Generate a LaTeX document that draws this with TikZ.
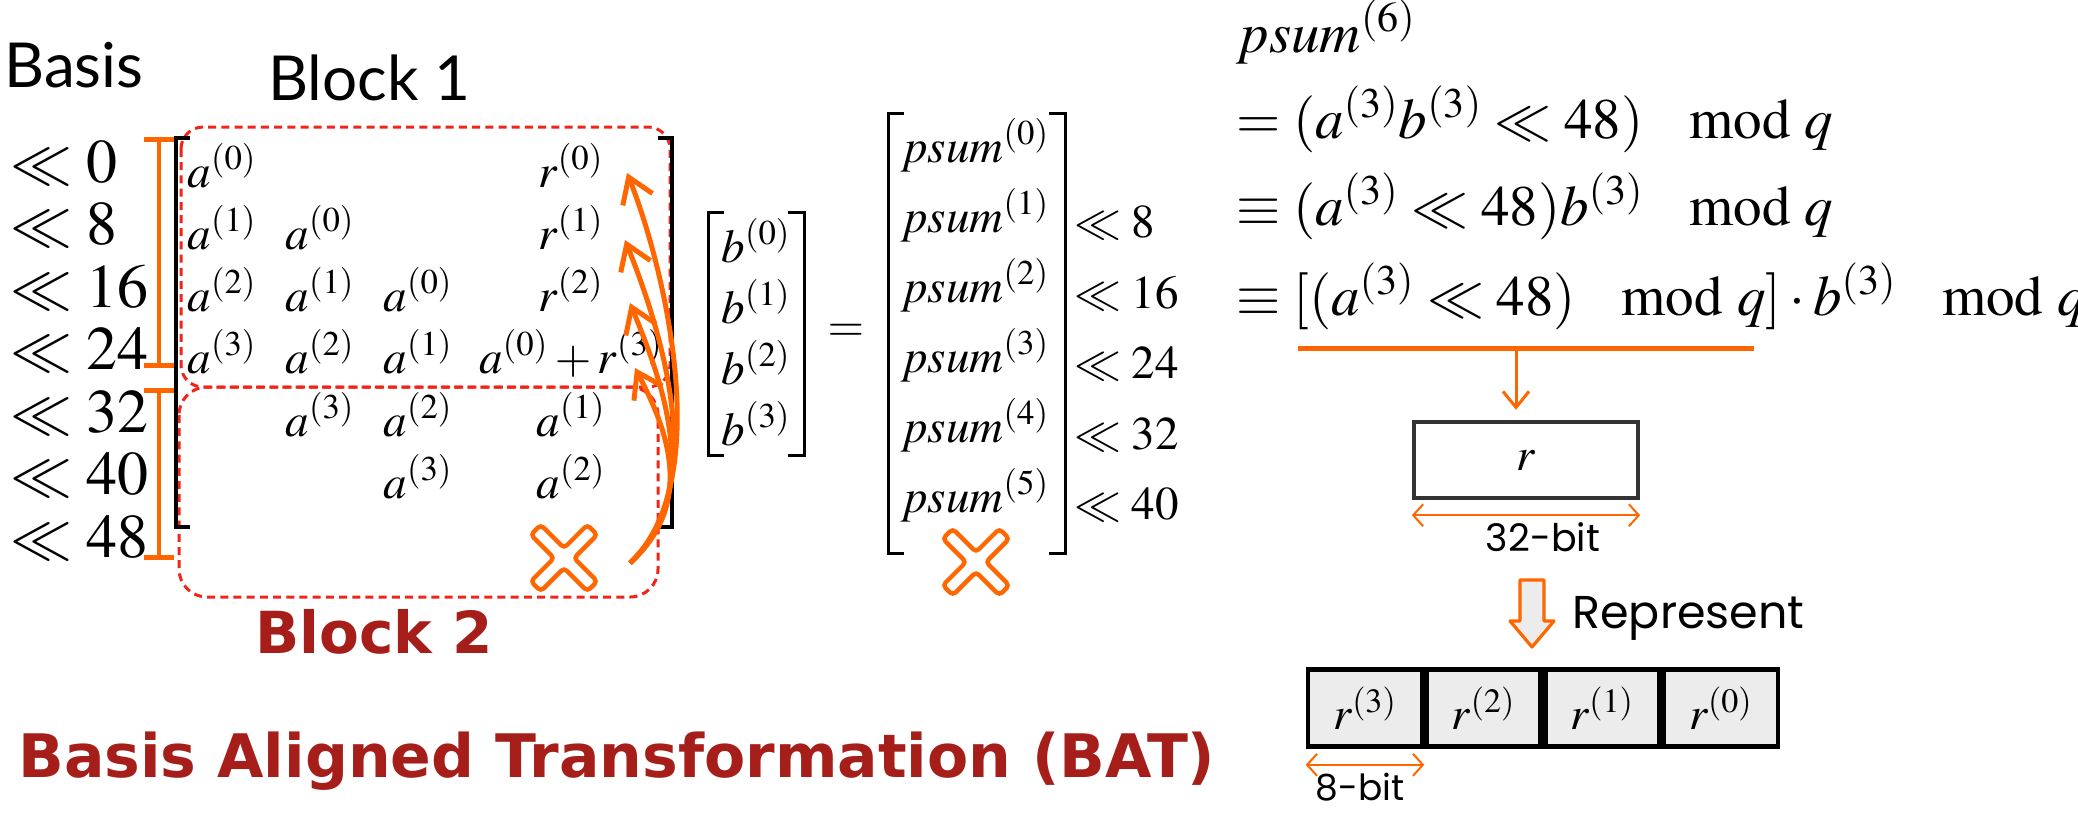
\documentclass[tikz,border=0pt]{standalone}
\usepackage{mathptmx}
\usepackage[no-math]{fontspec}
\setmainfont{Liberation Serif}
\newfontfamily\gillfont{Lato}
\newfontfamily\geofont{Poppins}
\newfontfamily\verdfont{DejaVu Sans}
\usetikzlibrary{positioning,calc,arrows.meta,shadows}
\definecolor{batorange}{RGB}{255,102,0}
\definecolor{batred}{RGB}{166,30,26}
\definecolor{dashred}{RGB}{240,36,24}
\definecolor{cellgray}{RGB}{236,236,236}

\begin{document}
\begin{tikzpicture}[x=0.5pt,y=-0.5pt,
    every node/.style={inner sep=0pt},
    shiftlbl/.style={anchor=base west,font=\fontsize{31}{36}\selectfont},
    entry/.style={anchor=base,font=\fontsize{23.5}{28}\selectfont},
    sumlbl/.style={anchor=base west,font=\fontsize{23.5}{28}\selectfont},
    eqline/.style={anchor=base west,font=\fontsize{28.5}{34}\selectfont},
    blockbox/.style={draw=dashred,line width=1.5pt,dash pattern=on 4pt off 2.6pt,rounded corners=11pt},
    bracketline/.style={line width=1.5pt},
    ibeam/.style={draw=batorange,line width=1.6pt,{Bar[width=15pt,line width=2.6pt]}-{Bar[width=15pt,line width=2.6pt]}},
    wraparc/.style={draw=batorange,line width=2.5pt,-{Straight Barb[length=12pt,width=16pt]}},
    crossmark/.style={draw=batorange,line width=2.2pt,fill=white,rounded corners=2pt,drop shadow={opacity=0.25,shadow xshift=1pt,shadow yshift=-1pt}},
    bitcell/.style={draw=black,line width=2.3pt,fill=cellgray,minimum width=57pt,minimum height=38.5pt,font=\fontsize{23}{28}\selectfont},
    bitspan/.style={draw=batorange,line width=1pt,{Straight Barb[length=5pt,width=11pt]}-{Straight Barb[length=5pt,width=11pt]}}
  ]
    \useasboundingbox (0,0) rectangle (2078,816);

    % titles
    \node[anchor=base west,font=\gillfont\fontsize{31}{36}\selectfont] (basis) at (4,87) {Basis};
    \node[anchor=base west,font=\gillfont\fontsize{31}{36}\selectfont] (blk1) at (268,100) {Block 1};

    % blocks
    \draw[blockbox] (181,127) rectangle (670,387);
    \draw[blockbox,rounded corners=14pt] (179,387) rectangle (658,597);

    % basis ranges
    \draw[ibeam] (159,137) -- (159,368);
    \draw[ibeam] (159,388) -- (159,560);
    \foreach \s [count=\k from 0] in {0,8,16,24,32,40,48}
      \node[shiftlbl] (sh\k) at (10,{182+62.5*\k}) {$\ll \s$};

    % matrix A
    \draw[bracketline,line width=1.8pt] (190,138) -- (176,138) -- (176,527) -- (190,527);
    \draw[bracketline,line width=1.8pt] (658,138) -- (672,138) -- (672,527) -- (658,527);
    \node[entry] (m00) at (222,187) {$a^{(0)}$};
    \node[entry] (r0) at (571,187) {$r^{(0)}$};
    \node[entry] (m10) at (222,249) {$a^{(1)}$};
    \node[entry] (m11) at (320,249) {$a^{(0)}$};
    \node[entry] (r1) at (571,249) {$r^{(1)}$};
    \node[entry] (m20) at (222,311) {$a^{(2)}$};
    \node[entry] (m21) at (320,311) {$a^{(1)}$};
    \node[entry] (m22) at (418,311) {$a^{(0)}$};
    \node[entry] (r2) at (571,311) {$r^{(2)}$};
    \node[entry] (m30) at (222,373) {$a^{(3)}$};
    \node[entry] (m31) at (320,373) {$a^{(2)}$};
    \node[entry] (m32) at (418,373) {$a^{(1)}$};
    \node[entry] (r3) at (571,373) {$a^{(0)}+r^{(3)}$};
    \node[entry] (m41) at (320,436) {$a^{(3)}$};
    \node[entry] (m42) at (418,436) {$a^{(2)}$};
    \node[entry] (m43) at (571,436) {$a^{(1)}$};
    \node[entry] (m52) at (418,498) {$a^{(3)}$};
    \node[entry] (m53) at (571,498) {$a^{(2)}$};

    % wrap-around arcs
    \coordinate (wrap) at (630,563);
    \draw[wraparc] (wrap) .. controls (718,480) and (662,260) .. ($(r0.base)+(56,-14)$);
    \draw[wraparc] (wrap) .. controls (714,485) and (657,320) .. ($(r1.base)+(54,-9)$);
    \draw[wraparc] (wrap) .. controls (708,490) and (657,370) .. ($(r2.base)+(59,-8)$);
    \draw[wraparc] (wrap) .. controls (700,500) and (662,420) .. ($(r3.base)+(64,-5)$);

    % vector b
    \draw[bracketline] (724,212) -- (708,212) -- (708,455) -- (724,455);
    \draw[bracketline] (788,212) -- (804,212) -- (804,455) -- (788,455);
    \foreach \k in {0,...,3}
      \node[entry] (b\k) at (756,{262+61*\k}) {$b^{(\k)}$};
    \node[entry,anchor=center] (eq) at (846,333) {$=$};

    % partial sums
    \draw[bracketline] (904,113) -- (888,113) -- (888,553) -- (904,553);
    \draw[bracketline] (1049,113) -- (1065,113) -- (1065,553) -- (1049,553);
    \foreach \k in {0,...,5}
      \node[entry] (ps\k) at (975,{162+70*\k}) {$psum^{(\k)}$};
    \foreach \s [count=\k] in {8,16,24,32,40}
      \node[sumlbl] (pl\k) at (1074,{167+70.5*\k}) {$\ll \s$};

    % dropped terms
    \foreach \cx/\cy in {564/558,976/562}{
      \begin{scope}[shift={(\cx,\cy)},rotate=45]
        \draw[crossmark] (7,40) -- (-7,40) -- (-7,7) -- (-40,7) -- (-40,-7) -- (-7,-7)
          -- (-7,-40) -- (7,-40) -- (7,-7) -- (40,-7) -- (40,7) -- (7,7) -- cycle;
      \end{scope}
    }

    % derivation
    \node[eqline] (eq0) at (1236,52) {$psum^{(6)}$};
    \node[eqline] (eq1) at (1236,138) {$=(a^{(3)}b^{(3)}\ll 48)\hspace{0.8em}\mathrm{mod}\ q$};
    \node[eqline] (eq2) at (1236,225) {$\equiv(a^{(3)}\ll 48)b^{(3)}\hspace{0.8em}\mathrm{mod}\ q$};
    \node[eqline] (eq3) at (1236,315) {$\equiv[(a^{(3)}\ll 48)\hspace{0.8em}\mathrm{mod}\ q]\cdot b^{(3)}\hspace{0.8em}\mathrm{mod}\ q$};
    \draw[draw=batorange,line width=2.5pt] (1298,348) -- (1754,348);
    \coordinate (barmid) at (1516,348);

    % r register
    \node[draw=black!80,line width=2.2pt,minimum width=112pt,minimum height=38pt,font=\fontsize{23}{28}\selectfont] (rbox) at (1526,460) {$r$};
    \draw[draw=batorange,line width=1.5pt,-{Straight Barb[length=8pt,width=13pt]},shorten >=5pt] (barmid) -- (barmid |- rbox.north);
    \draw[bitspan] ([yshift=-7.5pt]rbox.south west) -- ([yshift=-7.5pt]rbox.south east);
    \node[font=\geofont\fontsize{19}{22}\selectfont] (w32) at (1543,537) {32-bit};

    % represent
    \draw[draw=batorange,line width=1.6pt,fill=cellgray,line join=round] (1520,580) -- (1544,580) -- (1544,621)
      -- (1554,621) -- (1532,647) -- (1510,621) -- (1520,621) -- cycle;
    \node[anchor=base west,font=\geofont\fontsize{23}{28}\selectfont] (repr) at (1572,628) {Represent};

    \node[bitcell] (c3) at (1365,708) {$r^{(3)}$};
    \node[bitcell,right=0pt of c3] (c2) {$r^{(2)}$};
    \node[bitcell,right=0pt of c2] (c1) {$r^{(1)}$};
    \node[bitcell,right=0pt of c1] (c0) {$r^{(0)}$};
    \draw[bitspan] ([yshift=-8pt]c3.south west) -- ([yshift=-8pt]c3.south east);
    \node[font=\geofont\fontsize{18}{22}\selectfont] (w8) at (1360,787) {8-bit};

    % captions
    \node[anchor=base,font=\verdfont\bfseries\fontsize{29}{34}\selectfont,text=batred] (blk2) at (374,653) {Block 2};
    \node[anchor=base west,font=\verdfont\bfseries\fontsize{30}{36}\selectfont,text=batred] (bat) at (18,777) {Basis Aligned Transformation (BAT)};
\end{tikzpicture}
\end{document}
